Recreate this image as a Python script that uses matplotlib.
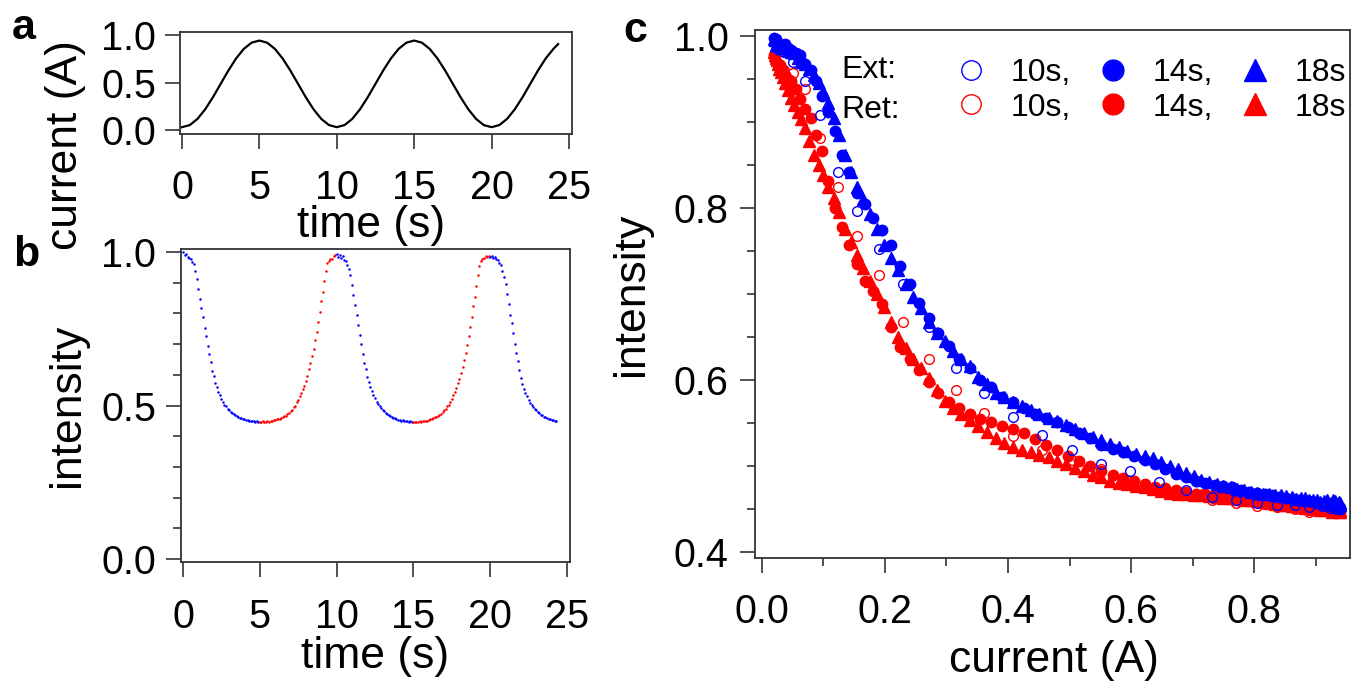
"""
Three-panel figure: coil current (a), intensity time trace (b) and
intensity vs current hysteresis for three periods (c).
"""

import numpy as np
import matplotlib
matplotlib.use("Agg")
import matplotlib.pyplot as plt
from matplotlib.ticker import MultipleLocator, FixedLocator

plt.rcParams["font.family"] = ["Liberation Sans", "DejaVu Sans"]

BLUE = "#0000ff"
RED = "#ff0000"
AXCOL = "#333333"

# ---- panel a: current (A) vs time (s) ----
T_A = [0.0, 0.5, 1.0, 1.5, 2.0, 2.5, 3.0, 3.5, 4.0, 4.5,
       5.0, 5.5, 6.0, 6.5, 7.0, 7.5, 8.0, 8.5, 9.0, 9.5,
       10.0, 10.5, 11.0, 11.5, 12.0, 12.5, 13.0, 13.5, 14.0, 14.5,
       15.0, 15.5, 16.0, 16.5, 17.0, 17.5, 18.0, 18.5, 19.0, 19.5,
       20.0, 20.5, 21.0, 21.5, 22.0, 22.5, 23.0, 23.5, 24.0, 24.3]
CURRENT_A = [0.030, 0.052, 0.117, 0.218, 0.345, 0.486, 0.627, 0.754, 0.855, 0.920,
             0.942, 0.920, 0.855, 0.754, 0.627, 0.486, 0.345, 0.218, 0.117, 0.052,
             0.030, 0.052, 0.117, 0.218, 0.345, 0.486, 0.627, 0.754, 0.855, 0.920,
             0.942, 0.920, 0.855, 0.754, 0.627, 0.486, 0.345, 0.218, 0.117, 0.052,
             0.030, 0.052, 0.117, 0.218, 0.345, 0.486, 0.627, 0.754, 0.855, 0.905]

# ---- panel b: intensity trace, one sample every 0.1 s, per half cycle ----
DT_B = 0.1
B_STARTS = [0.0, 5.0, 10.0, 15.0, 20.0]
B_KIND = ["ext", "ret", "ext", "ret", "ext"]
B_EXT1 = [1.000, 0.992, 0.994, 0.985, 0.981, 0.978, 0.969, 0.962, 0.938, 0.912,
          0.880, 0.848, 0.818, 0.787, 0.754, 0.726, 0.694, 0.667, 0.641, 0.614,
          0.596, 0.574, 0.561, 0.544, 0.534, 0.521, 0.513, 0.503, 0.498, 0.489,
          0.486, 0.479, 0.477, 0.471, 0.470, 0.465, 0.464, 0.460, 0.459, 0.456,
          0.456, 0.453, 0.452, 0.450, 0.451, 0.448, 0.449, 0.447, 0.448, 0.446]
B_RET1 = [0.447, 0.446, 0.448, 0.446, 0.447, 0.448, 0.447, 0.449, 0.450, 0.452,
          0.452, 0.455, 0.456, 0.457, 0.461, 0.462, 0.466, 0.467, 0.473, 0.475,
          0.482, 0.486, 0.495, 0.500, 0.510, 0.517, 0.530, 0.540, 0.554, 0.565,
          0.581, 0.597, 0.618, 0.637, 0.661, 0.684, 0.713, 0.741, 0.773, 0.804,
          0.841, 0.869, 0.906, 0.938, 0.964, 0.971, 0.977, 0.979, 0.986, 0.991]
B_EXT2 = [0.995, 0.985, 0.990, 0.982, 0.986, 0.975, 0.972, 0.958, 0.945, 0.925,
          0.893, 0.860, 0.828, 0.795, 0.762, 0.730, 0.700, 0.668, 0.640, 0.618,
          0.594, 0.578, 0.559, 0.547, 0.533, 0.524, 0.512, 0.505, 0.497, 0.491,
          0.485, 0.481, 0.476, 0.473, 0.468, 0.466, 0.462, 0.461, 0.458, 0.457,
          0.454, 0.454, 0.451, 0.452, 0.449, 0.450, 0.448, 0.447, 0.448, 0.446]
B_RET2 = [0.446, 0.447, 0.445, 0.447, 0.448, 0.446, 0.448, 0.449, 0.451, 0.451,
          0.453, 0.456, 0.457, 0.459, 0.462, 0.464, 0.467, 0.470, 0.474, 0.478,
          0.484, 0.489, 0.497, 0.503, 0.513, 0.521, 0.533, 0.545, 0.558, 0.572,
          0.588, 0.605, 0.626, 0.648, 0.672, 0.698, 0.727, 0.757, 0.790, 0.823,
          0.855, 0.890, 0.925, 0.955, 0.972, 0.978, 0.982, 0.986, 0.983, 0.987]
B_EXT3 = [0.985, 0.988, 0.981, 0.984, 0.978, 0.975, 0.966, 0.958, 0.940, 0.918,
          0.895, 0.862, 0.830, 0.796, 0.768, 0.735, 0.701, 0.672, 0.645, 0.617,
          0.590, 0.571, 0.555, 0.541, 0.530, 0.518, 0.509, 0.502, 0.494, 0.489,
          0.484, 0.478, 0.475, 0.470, 0.468, 0.464, 0.462, 0.458, 0.457, 0.455,
          0.453, 0.452, 0.449, 0.448]
B_BRANCHES = [B_EXT1, B_RET1, B_EXT2, B_RET2, B_EXT3]

# ---- panel c: intensity vs current, extension / retraction ----
# 10 s period, one cycle
C_CUR_10 = [0.021, 0.026, 0.036, 0.051, 0.070, 0.094, 0.123, 0.155, 0.191, 0.230,
            0.271, 0.315, 0.361, 0.408, 0.456, 0.504, 0.552, 0.599, 0.645, 0.689,
            0.731, 0.770, 0.805, 0.838, 0.866, 0.890, 0.910, 0.924, 0.934, 0.939]
C_EXT_10 = [0.992, 0.985, 0.982, 0.970, 0.948, 0.908, 0.842, 0.797, 0.752, 0.712,
            0.662, 0.614, 0.585, 0.557, 0.536, 0.519, 0.502, 0.494, 0.481, 0.472,
            0.464, 0.460, 0.457, 0.455, 0.455, 0.452, 0.453, 0.451, 0.450, 0.452]
C_RET_10 = [0.972, 0.964, 0.960, 0.957, 0.938, 0.882, 0.825, 0.768, 0.722, 0.668,
            0.624, 0.588, 0.562, 0.535, 0.519, 0.507, 0.496, 0.483, 0.472, 0.466,
            0.460, 0.457, 0.454, 0.452, 0.450, 0.447, 0.449, 0.446, 0.448, 0.450]

# 14 s period, two cycles
C_CUR_14 = [0.020, 0.023, 0.029, 0.037, 0.048, 0.062, 0.079, 0.098, 0.119, 0.142,
            0.168, 0.195, 0.224, 0.255, 0.287, 0.321, 0.355, 0.390, 0.426, 0.462,
            0.498, 0.534, 0.570, 0.605, 0.639, 0.673, 0.705, 0.736, 0.765, 0.792,
            0.818, 0.841, 0.863, 0.881, 0.898, 0.912, 0.923, 0.931, 0.937, 0.940]
C_EXT_14 = [0.998, 0.996, 0.990, 0.991, 0.984, 0.978, 0.960, 0.930, 0.890, 0.842,
            0.805, 0.774, 0.733, 0.690, 0.655, 0.625, 0.600, 0.580, 0.567, 0.556,
            0.545, 0.532, 0.520, 0.512, 0.502, 0.491, 0.483, 0.478, 0.475, 0.470,
            0.468, 0.464, 0.462, 0.459, 0.458, 0.456, 0.455, 0.452, 0.454, 0.450]
C_RET_14 = [0.978, 0.970, 0.966, 0.955, 0.948, 0.927, 0.905, 0.866, 0.800, 0.757,
            0.715, 0.688, 0.638, 0.612, 0.585, 0.567, 0.555, 0.547, 0.538, 0.525,
            0.512, 0.500, 0.490, 0.482, 0.476, 0.472, 0.468, 0.466, 0.463, 0.460,
            0.458, 0.457, 0.455, 0.453, 0.452, 0.451, 0.450, 0.449, 0.452, 0.447]
C_CUR_14B = [0.021, 0.026, 0.033, 0.043, 0.055, 0.070, 0.088, 0.108, 0.130, 0.155,
             0.181, 0.210, 0.240, 0.271, 0.304, 0.338, 0.373, 0.408, 0.444, 0.480,
             0.516, 0.552, 0.587, 0.622, 0.656, 0.689, 0.720, 0.750, 0.779, 0.805,
             0.830, 0.852, 0.872, 0.890, 0.905, 0.918, 0.927, 0.934, 0.939]
C_EXT_14B = [0.997, 0.992, 0.988, 0.986, 0.980, 0.968, 0.948, 0.912, 0.862, 0.818,
             0.788, 0.757, 0.712, 0.672, 0.640, 0.614, 0.592, 0.574, 0.561, 0.551,
             0.538, 0.525, 0.516, 0.507, 0.496, 0.487, 0.480, 0.477, 0.472, 0.469,
             0.466, 0.463, 0.461, 0.459, 0.457, 0.455, 0.453, 0.456, 0.451]
C_RET_14B = [0.975, 0.968, 0.962, 0.950, 0.938, 0.915, 0.885, 0.832, 0.778, 0.735,
             0.703, 0.662, 0.625, 0.598, 0.575, 0.560, 0.551, 0.543, 0.531, 0.519,
             0.506, 0.494, 0.486, 0.479, 0.474, 0.470, 0.467, 0.465, 0.461, 0.459,
             0.457, 0.456, 0.454, 0.452, 0.451, 0.449, 0.451, 0.448, 0.450]

# 18 s period, two cycles
C_CUR_18 = [0.020, 0.022, 0.026, 0.031, 0.038, 0.047, 0.058, 0.070, 0.084, 0.100,
            0.117, 0.135, 0.155, 0.176, 0.198, 0.221, 0.246, 0.271, 0.297, 0.324,
            0.352, 0.380, 0.408, 0.437, 0.466, 0.494, 0.523, 0.552, 0.580, 0.608,
            0.636, 0.663, 0.689, 0.714, 0.739, 0.762, 0.784, 0.805, 0.825, 0.844,
            0.861, 0.876, 0.890, 0.902, 0.913, 0.922, 0.929, 0.934, 0.938, 0.940]
C_EXT_18 = [0.996, 0.990, 0.993, 0.986, 0.988, 0.982, 0.975, 0.968, 0.955, 0.935,
            0.905, 0.862, 0.825, 0.793, 0.757, 0.728, 0.697, 0.668, 0.645, 0.625,
            0.604, 0.585, 0.575, 0.565, 0.556, 0.548, 0.538, 0.530, 0.522, 0.514,
            0.509, 0.500, 0.492, 0.484, 0.479, 0.475, 0.472, 0.469, 0.467, 0.466,
            0.464, 0.463, 0.461, 0.460, 0.459, 0.457, 0.461, 0.456, 0.458, 0.455]
C_RET_18 = [0.982, 0.975, 0.968, 0.958, 0.945, 0.928, 0.912, 0.893, 0.862, 0.838,
            0.812, 0.776, 0.745, 0.715, 0.685, 0.650, 0.625, 0.602, 0.576, 0.560,
            0.546, 0.532, 0.522, 0.516, 0.511, 0.502, 0.494, 0.487, 0.480, 0.477,
            0.473, 0.469, 0.467, 0.466, 0.464, 0.463, 0.461, 0.459, 0.457, 0.455,
            0.454, 0.452, 0.451, 0.450, 0.449, 0.452, 0.448, 0.450, 0.446, 0.449]
C_CUR_18B = [0.021, 0.024, 0.028, 0.035, 0.043, 0.052, 0.064, 0.077, 0.092, 0.108,
             0.126, 0.145, 0.165, 0.187, 0.210, 0.234, 0.258, 0.284, 0.311, 0.338,
             0.366, 0.394, 0.422, 0.451, 0.480, 0.509, 0.538, 0.566, 0.594, 0.622,
             0.649, 0.676, 0.702, 0.727, 0.750, 0.773, 0.795, 0.815, 0.834, 0.852,
             0.868, 0.883, 0.896, 0.908, 0.918, 0.926, 0.932, 0.936, 0.939]
C_EXT_18B = [0.995, 0.991, 0.989, 0.990, 0.984, 0.980, 0.970, 0.962, 0.945, 0.922,
             0.885, 0.842, 0.810, 0.776, 0.742, 0.712, 0.684, 0.655, 0.634, 0.616,
             0.595, 0.580, 0.570, 0.561, 0.552, 0.543, 0.534, 0.526, 0.518, 0.512,
             0.505, 0.496, 0.488, 0.481, 0.477, 0.473, 0.470, 0.468, 0.466, 0.465,
             0.462, 0.463, 0.460, 0.458, 0.460, 0.456, 0.459, 0.455, 0.457]
C_RET_18B = [0.978, 0.972, 0.962, 0.952, 0.937, 0.920, 0.903, 0.878, 0.850, 0.825,
             0.795, 0.760, 0.730, 0.700, 0.668, 0.637, 0.614, 0.588, 0.568, 0.553,
             0.539, 0.527, 0.519, 0.513, 0.506, 0.498, 0.490, 0.483, 0.479, 0.475,
             0.471, 0.468, 0.466, 0.465, 0.463, 0.462, 0.460, 0.458, 0.456, 0.455,
             0.453, 0.451, 0.450, 0.449, 0.451, 0.447, 0.450, 0.448, 0.446]

TICK_FS = 28.5
LABEL_FS = 32


def style_axes(ax, xpad=14, ypad=6):
    """Igor-like boxed axes with outward ticks."""
    for sp in ax.spines.values():
        sp.set_color(AXCOL)
        sp.set_linewidth(1.3)
    ax.tick_params(which="major", direction="out", length=11, width=1.2,
                   color=AXCOL, labelsize=TICK_FS, labelcolor="black")
    ax.tick_params(which="minor", direction="out", length=6, width=1.2, color=AXCOL)
    ax.tick_params(axis="x", which="major", pad=xpad)
    ax.tick_params(axis="y", which="major", pad=ypad)


def set_labels(ax, xlabel, ylabel, xpos, ypos):
    ax.set_xlabel(xlabel, fontsize=LABEL_FS)
    ax.set_ylabel(ylabel, fontsize=LABEL_FS)
    ax.xaxis.label.set_va("center")
    ax.yaxis.label.set_va("center")
    ax.xaxis.set_label_coords(*xpos)
    ax.yaxis.set_label_coords(*ypos)


def plot_current(ax):
    ax.plot(T_A, CURRENT_A, color="black", lw=1.6)
    ax.set_xlim(-0.13, 25.19)
    ax.set_ylim(-0.042, 1.032)
    ax.xaxis.set_major_locator(MultipleLocator(5))
    ax.yaxis.set_major_locator(FixedLocator([0.0, 0.5, 1.0]))
    ax.set_yticklabels(["0.0", "0.5", "1.0"])
    style_axes(ax)
    set_labels(ax, "time (s)", "current (A)", (0.487, -0.90), (-0.291, -0.108))


def plot_trace(ax):
    for start, kind, vals in zip(B_STARTS, B_KIND, B_BRANCHES):
        t = start + DT_B * np.arange(len(vals))
        ax.plot(t, vals, ls="none", marker="o", ms=1.8, mew=0,
                color=BLUE if kind == "ext" else RED)
    ax.set_xlim(-0.13, 25.2)
    ax.set_ylim(-0.01, 1.01)
    ax.xaxis.set_major_locator(MultipleLocator(5))
    ax.yaxis.set_major_locator(FixedLocator([0.0, 0.5, 1.0]))
    ax.yaxis.set_minor_locator(MultipleLocator(0.1))
    ax.set_yticklabels(["0.0", "0.5", "1.0"])
    style_axes(ax, xpad=15, ypad=7)
    set_labels(ax, "time (s)", "intensity", (0.499, -0.302), (-0.293, 0.5))


def plot_hysteresis(ax):
    # retraction first so the extension branches sit on top
    open_kw = dict(ls="none", marker="o", ms=7, mfc="none", mew=1.0)
    r10, = ax.plot(C_CUR_10, C_RET_10, mec=RED, **open_kw)
    r14, = ax.plot(C_CUR_14, C_RET_14, ls="none", marker="o", ms=7.5, color=RED)
    ax.plot(C_CUR_14B, C_RET_14B, ls="none", marker="o", ms=7.5, color=RED)
    r18, = ax.plot(C_CUR_18, C_RET_18, ls="none", marker="^", ms=8, color=RED)
    ax.plot(C_CUR_18B, C_RET_18B, ls="none", marker="^", ms=8, color=RED)
    e10, = ax.plot(C_CUR_10, C_EXT_10, mec=BLUE, **open_kw)
    e14, = ax.plot(C_CUR_14, C_EXT_14, ls="none", marker="o", ms=7.5, color=BLUE)
    ax.plot(C_CUR_14B, C_EXT_14B, ls="none", marker="o", ms=7.5, color=BLUE)
    e18, = ax.plot(C_CUR_18, C_EXT_18, ls="none", marker="^", ms=8, color=BLUE)
    ax.plot(C_CUR_18B, C_EXT_18B, ls="none", marker="^", ms=8, color=BLUE)

    ax.set_xlim(-0.0114, 0.956)
    ax.set_ylim(0.393, 1.007)
    ax.xaxis.set_major_locator(FixedLocator([0.0, 0.2, 0.4, 0.6, 0.8]))
    ax.set_xticklabels(["0.0", "0.2", "0.4", "0.6", "0.8"])
    ax.xaxis.set_minor_locator(MultipleLocator(0.1))
    ax.yaxis.set_major_locator(FixedLocator([0.4, 0.6, 0.8, 1.0]))
    ax.set_yticklabels(["0.4", "0.6", "0.8", "1.0"])
    ax.yaxis.set_minor_locator(MultipleLocator(0.05))
    style_axes(ax, xpad=14, ypad=8)
    set_labels(ax, "current (A)", "intensity", (0.503, -0.195), (-0.208, 0.5))

    handles = [e10, r10, e14, r14, e18, r18]
    labels = ["10s,", "10s,", "14s,", "14s,", "18s", "18s"]
    ax.legend(handles, labels, ncol=3, loc="center right",
              bbox_to_anchor=(0.993, 0.886), frameon=False, fontsize=23,
              markerscale=2.0, handlelength=1.0, handletextpad=0.75,
              columnspacing=0.8, labelspacing=0.15, borderpad=0.0,
              borderaxespad=0.0)
    ax.text(0.146, 0.924, "Ext:", transform=ax.transAxes, fontsize=23,
            ha="left", va="center")
    ax.text(0.146, 0.849, "Ret:", transform=ax.transAxes, fontsize=23,
            ha="left", va="center")


def main():
    fig = plt.figure(figsize=(13.52, 6.81), dpi=100)
    ax_a = fig.add_axes([0.1331, 0.8032, 0.2899, 0.1498])
    ax_b = fig.add_axes([0.1339, 0.1747, 0.2877, 0.4596])
    ax_c = fig.add_axes([0.5584, 0.1806, 0.4401, 0.7753])

    plot_current(ax_a)
    plot_trace(ax_b)
    plot_hysteresis(ax_c)

    for letter, x, y in [("a", 0.0178, 0.9589), ("b", 0.0192, 0.6256),
                         ("c", 0.4697, 0.9545)]:
        fig.text(x, y, letter, fontsize=31, fontweight="bold",
                 ha="center", va="center")

    fig.savefig("out.png", dpi=100)
    plt.close(fig)


if __name__ == "__main__":
    main()
